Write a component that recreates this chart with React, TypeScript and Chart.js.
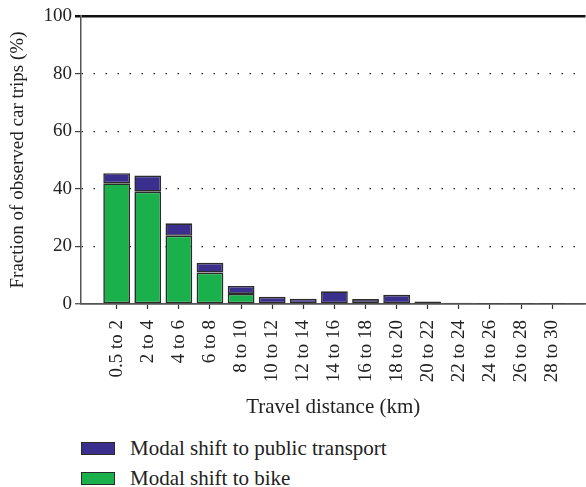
import React, { useEffect, useRef } from "react";
import { Chart, registerables } from "chart.js";

Chart.register(...registerables);

const categories = [
  "0.5 to 2", "2 to 4", "4 to 6", "6 to 8", "8 to 10", "10 to 12", "12 to 14",
  "14 to 16", "16 to 18", "18 to 20", "20 to 22", "22 to 24", "24 to 26", "26 to 28", "28 to 30",
];
const bikeShift = [41.9, 39.0, 23.7, 10.9, 3.5, null, null, null, 0.3, null, null, null, null, null, null];
const publicTransportShift = [3.5, 5.6, 4.3, 3.4, 2.75, 2.5, 1.8, 4.4, 1.4, 3.2, 0.9, 0.4, 0.1, 0.1, 0.1];
const yTicks = [0, 20, 40, 60, 80, 100];

const FONT = "'Liberation Serif', 'Times New Roman', serif";
const BLUE = "#3a2f8d";
const GREEN = "#1ab04c";
const EDGE = "#2b2b2b";

export default function App() {
  const ref = useRef<HTMLCanvasElement | null>(null);

  useEffect(() => {
    if (!ref.current) return;
    const chart = new Chart(ref.current, {
      type: "bar",
      data: {
        datasets: [
          {
            label: "Modal shift to bike",
            data: bikeShift.map((v, i) => ({ x: i, y: v })) as any,
            backgroundColor: GREEN,
            borderColor: EDGE,
            borderWidth: 1.6,
            borderSkipped: false,
          },
          {
            label: "Modal shift to public transport",
            data: publicTransportShift.map((v, i) => ({ x: i, y: v })) as any,
            backgroundColor: BLUE,
            borderColor: EDGE,
            borderWidth: 1.6,
            borderSkipped: false,
          },
        ],
      },
      options: {
        responsive: false,
        animation: false,
        layout: { padding: { top: 16, left: 0, right: 0, bottom: 0 } },
        datasets: { bar: { categoryPercentage: 0.86, barPercentage: 1 } },
        plugins: { legend: { display: false }, tooltip: { enabled: false } },
        scales: {
          x: {
            type: "linear",
            stacked: true,
            offset: false,
            min: -1.146,
            max: 15.07,
            afterBuildTicks: (scale: any) => {
              scale.ticks = categories.map((_, i) => ({ value: i }));
            },
            afterFit: (scale: any) => {
              scale.height = 116;
            },
            ticks: {
              autoSkip: false,
              maxRotation: 90,
              minRotation: 90,
              padding: 11,
              color: "#222",
              font: { family: FONT, size: 19 },
              callback: (v: any) => categories[v as number] ?? "",
            },
            grid: { offset: false, drawOnChartArea: false, drawTicks: true, tickLength: 5, tickColor: "#333", tickWidth: 1.2 },
            border: { display: true, color: "#555", width: 1.5 },
            title: {
              display: true,
              text: "Travel distance (km)",
              color: "#222",
              font: { family: FONT, size: 21 },
              padding: { top: 0, bottom: 0 },
            },
          },
          y: {
            stacked: true,
            min: 0,
            max: 100,
            afterBuildTicks: (scale: any) => {
              scale.ticks = yTicks.map((v) => ({ value: v }));
            },
            afterFit: (scale: any) => {
              scale.width = 81;
            },
            ticks: {
              padding: 3,
              color: "#222",
              font: { family: FONT, size: 19 },
            },
            grid: {
              color: (ctx: any) => (ctx.tick && ctx.tick.value === 100 ? "#111" : ctx.tick && ctx.tick.value === 0 ? "#555" : "#222"),
              lineWidth: (ctx: any) => (ctx.tick && ctx.tick.value === 100 ? 2.5 : ctx.tick && ctx.tick.value === 0 ? 1.5 : 1.2),
              tickLength: 6,
              tickColor: (ctx: any) => (ctx.tick && ctx.tick.value === 100 ? "#111" : "#444"),
              tickWidth: (ctx: any) => (ctx.tick && ctx.tick.value === 100 ? 2.5 : 1.2),
              tickBorderDash: [],
            },
            border: {
              display: true,
              color: "#555",
              width: 1.5,
              dash: (ctx: any) => (ctx.tick && (ctx.tick.value === 100 || ctx.tick.value === 0) ? [] : [1.5, 10.5]),
            },
            title: {
              display: true,
              text: "Fraction of observed car trips (%)",
              color: "#222",
              font: { family: FONT, size: 19 },
              padding: { top: 7, bottom: 0 },
            },
          },
        },
      },
    });
    return () => chart.destroy();
  }, []);

  const legendItems = [
    { label: "Modal shift to public transport", color: BLUE },
    { label: "Modal shift to bike", color: GREEN },
  ];

  return (
    <div style={{ position: "absolute", left: 0, top: 0, width: 586, height: 487, background: "#fff", overflow: "hidden" }}>
      <canvas ref={ref} width={586} height={420} style={{ position: "absolute", left: 0, top: 0, width: 586, height: 420 }} />
      {legendItems.map((it, i) => (
        <div
          key={it.label}
          style={{
            position: "absolute",
            left: 81,
            top: 436 + i * 30,
            height: 24,
            display: "flex",
            alignItems: "center",
            fontFamily: FONT,
            fontSize: 21,
            color: "#222",
            whiteSpace: "nowrap",
          }}
        >
          <span
            style={{
              display: "inline-block",
              width: 32,
              height: 11,
              background: it.color,
              border: `1.5px solid ${EDGE}`,
              marginRight: 15,
            }}
          />
          <span>{it.label}</span>
        </div>
      ))}
    </div>
  );
}
